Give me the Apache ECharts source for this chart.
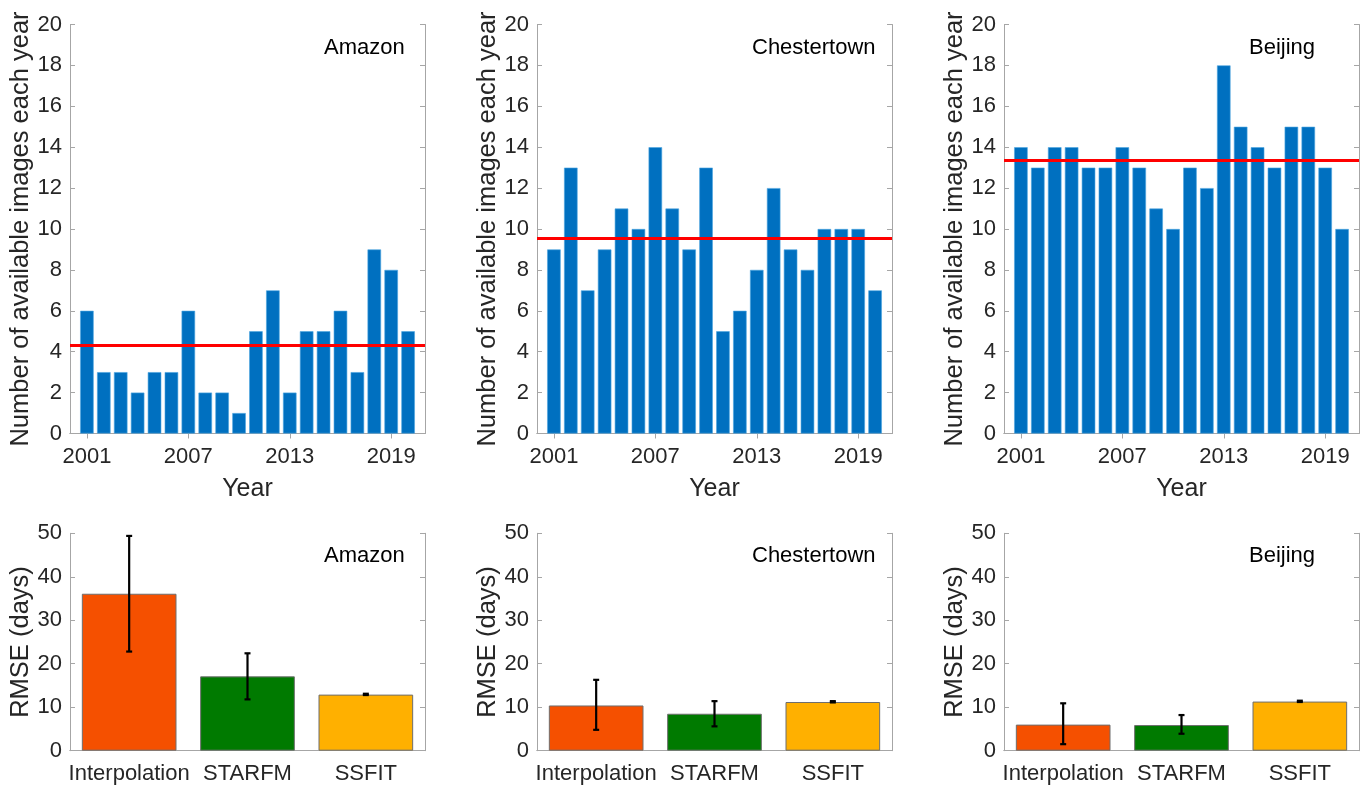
<!DOCTYPE html>
<html>
<head>
<meta charset="utf-8">
<script src="https://cdn.jsdelivr.net/npm/echarts@6/dist/echarts.min.js"></script>
<style>
html,body{margin:0;padding:0;background:#fff;}
#main{width:1363px;height:786px;}
</style>
</head>
<body>
<div id="main"></div>
<script>
// ---- data ----
const sites = ['Amazon', 'Chestertown', 'Beijing'];
const years = [2001,2002,2003,2004,2005,2006,2007,2008,2009,2010,2011,2012,2013,2014,2015,2016,2017,2018,2019,2020];
const amazonCounts = [6,3,3,2,3,3,6,2,2,1,5,7,2,5,5,6,3,9,8,5];
const chestertownCounts = [9,13,7,9,11,10,14,11,9,13,5,6,8,12,9,8,10,10,10,7];
const beijingCounts = [14,13,14,14,13,13,14,13,11,10,13,12,18,15,14,13,15,15,13,10];
const meanCounts = [4.3, 9.55, 13.35];
const yearTicks = [2001, 2007, 2013, 2019];

const methods = ['Interpolation', 'STARFM', 'SSFIT'];
const methodColors = ['#F55000', '#007A00', '#FFB000'];
const amazonRmse = [36.1, 17.1, 12.9];
const amazonErrLow = [22.8, 11.8, 12.8];
const amazonErrHigh = [49.4, 22.4, 13.1];
const chestertownRmse = [10.4, 8.5, 11.2];
const chestertownErrLow = [4.8, 5.6, 11.1];
const chestertownErrHigh = [16.3, 11.4, 11.4];
const beijingRmse = [6.0, 5.9, 11.3];
const beijingErrLow = [1.5, 3.9, 11.2];
const beijingErrHigh = [10.9, 8.2, 11.5];

const countsBySite = [amazonCounts, chestertownCounts, beijingCounts];
const rmseBySite = [amazonRmse, chestertownRmse, beijingRmse];
const errLowBySite = [amazonErrLow, chestertownErrLow, beijingErrLow];
const errHighBySite = [amazonErrHigh, chestertownErrHigh, beijingErrHigh];

// ---- layout ----
const FONT = 'Liberation Sans, Arial, sans-serif';
const TXT = '#262626';
const AX = '#A6A6A6';
const lefts = [70, 537, 1004];
const W = 355;
const topRow = {top: 24.5, height: 409};
const botRow = {top: 533.3, height: 217.4};
const annoLeft = [324, 752, 1249];

const grids = [], xAxes = [], yAxes = [], series = [], titles = [];
const axLine = {show: true, lineStyle: {color: AX, width: 1}};
const tickIn = {show: true, inside: true, length: 5, lineStyle: {color: AX}};
const lbl = {color: TXT, fontSize: 22, fontFamily: FONT};

for (let s = 0; s < 3; s++) {
  // top row grid
  const g = grids.length;
  grids.push({left: lefts[s], width: W, top: topRow.top, height: topRow.height, containLabel: false});
  const xb = xAxes.length;
  xAxes.push({gridIndex: g, type: 'value', min: 2000, max: 2021, position: 'bottom',
    axisLine: axLine, splitLine: {show: false},
    axisTick: Object.assign({}, tickIn, {customValues: yearTicks}),
    axisLabel: Object.assign({}, lbl, {margin: 12, customValues: yearTicks, formatter: v => String(v)}),
    name: 'Year', nameLocation: 'middle', nameGap: 43,
    nameTextStyle: {color: TXT, fontSize: 25, fontFamily: FONT}});
  xAxes.push({gridIndex: g, type: 'value', min: 2000, max: 2021, position: 'top',
    axisLine: axLine, splitLine: {show: false},
    axisTick: Object.assign({}, tickIn, {customValues: yearTicks}),
    axisLabel: {show: false}});
  const yb = yAxes.length;
  yAxes.push({gridIndex: g, type: 'value', min: 0, max: 20, interval: 2, position: 'left',
    axisLine: axLine, splitLine: {show: false}, axisTick: tickIn,
    axisLabel: Object.assign({}, lbl, {margin: 8}),
    name: 'Number of available images each year', nameLocation: 'middle', nameGap: 27,
    nameTextStyle: {color: TXT, fontSize: 25.5, fontFamily: FONT}});
  yAxes.push({gridIndex: g, type: 'value', min: 0, max: 20, interval: 2, position: 'right',
    axisLine: axLine, splitLine: {show: false}, axisTick: tickIn, axisLabel: {show: false}});
  series.push({type: 'bar', xAxisIndex: xb, yAxisIndex: yb, barWidth: 13.5,
    data: years.map((y, i) => [y, countsBySite[s][i]]),
    itemStyle: {color: '#0070C0', borderColor: '#4DA6E0', borderWidth: 0.6},
    silent: true,
    markLine: {silent: true, symbol: 'none', label: {show: false},
      lineStyle: {color: '#FF0000', width: 3, type: 'solid'},
      data: [{yAxis: meanCounts[s]}]}});
  titles.push({text: sites[s], left: annoLeft[s], top: 37, padding: 0,
    textStyle: {color: '#000', fontSize: 22, fontWeight: 'normal', fontFamily: FONT}});

  // bottom row grid
  const g2 = grids.length;
  grids.push({left: lefts[s], width: W, top: botRow.top, height: botRow.height, containLabel: false});
  const xb2 = xAxes.length;
  xAxes.push({gridIndex: g2, type: 'category', data: methods, position: 'bottom',
    axisLine: axLine, axisTick: {show: false},
    axisLabel: Object.assign({}, lbl, {margin: 12, interval: 0})});
  xAxes.push({gridIndex: g2, type: 'category', data: methods, position: 'top',
    axisLine: axLine, axisTick: {show: false}, axisLabel: {show: false}});
  const yb2 = yAxes.length;
  yAxes.push({gridIndex: g2, type: 'value', min: 0, max: 50, interval: 10, position: 'left',
    axisLine: axLine, splitLine: {show: false}, axisTick: tickIn,
    axisLabel: Object.assign({}, lbl, {margin: 8}),
    name: 'RMSE (days)', nameLocation: 'middle', nameGap: 29,
    nameTextStyle: {color: TXT, fontSize: 25.5, fontFamily: FONT}});
  yAxes.push({gridIndex: g2, type: 'value', min: 0, max: 50, interval: 10, position: 'right',
    axisLine: axLine, splitLine: {show: false}, axisTick: tickIn, axisLabel: {show: false}});
  series.push({type: 'bar', xAxisIndex: xb2, yAxisIndex: yb2, barWidth: '80%', silent: true,
    data: rmseBySite[s].map((v, i) => ({value: v, itemStyle: {color: methodColors[i]}})),
    itemStyle: {borderColor: '#6E6E6E', borderWidth: 1}});
  series.push({type: 'custom', xAxisIndex: xb2, yAxisIndex: yb2, silent: true, z: 10,
    data: methods.map((m, i) => [i, errLowBySite[s][i], errHighBySite[s][i]]),
    renderItem: function (params, api) {
      const lo = api.coord([api.value(0), api.value(1)]);
      const hi = api.coord([api.value(0), api.value(2)]);
      const cw = 3;
      const st = {stroke: '#000', lineWidth: 2.2};
      return {type: 'group', children: [
        {type: 'line', shape: {x1: lo[0], y1: lo[1], x2: hi[0], y2: hi[1]}, style: st},
        {type: 'line', shape: {x1: lo[0] - cw, y1: lo[1], x2: lo[0] + cw, y2: lo[1]}, style: st},
        {type: 'line', shape: {x1: hi[0] - cw, y1: hi[1], x2: hi[0] + cw, y2: hi[1]}, style: st}
      ]};
    }});
  titles.push({text: sites[s], left: annoLeft[s], top: 545, padding: 0,
    textStyle: {color: '#000', fontSize: 22, fontWeight: 'normal', fontFamily: FONT}});
}

const chart = echarts.init(document.getElementById('main'), null, {renderer: 'canvas'});
chart.setOption({
  animation: false,
  backgroundColor: '#fff',
  title: titles,
  grid: grids,
  xAxis: xAxes,
  yAxis: yAxes,
  series: series
});
</script>
</body>
</html>
